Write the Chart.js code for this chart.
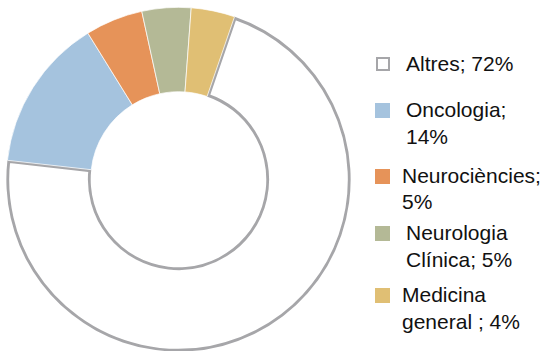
<!DOCTYPE html>
<html>
<head>
<meta charset="utf-8">
<script src="https://cdn.jsdelivr.net/npm/chart.js@4"></script>
<style>
  html, body { margin: 0; padding: 0; background: #fff; }
  body { width: 543px; height: 351px; position: relative; overflow: hidden; font-family: "Liberation Sans", Arial, sans-serif; }
  #wrap { position: absolute; left: 5.5px; top: 6.5px; width: 345px; height: 345px; }
  .lg-box { position: absolute; box-sizing: border-box; }
  .lg-text { position: absolute; font-size: 21px; line-height: 26.5px; color: #111; white-space: nowrap; }
</style>
</head>
<body>
<div id="wrap"><canvas id="c"></canvas></div>
<div id="legend"></div>
<script>
// ---- data ----
const categories = ['Altres', 'Oncologia', 'Neurociències', 'Neurologia Clínica', 'Medicina general'];
const values = [71.5, 14.4, 5.4, 4.6, 4.1];
const legendLines = [
  ['Altres; 72%'],
  ['Oncologia;', '14%'],
  ['Neurociències;', '5%'],
  ['Neurologia', 'Clínica; 5%'],
  ['Medicina', 'general ; 4%']
];

// ---- styles ----
const fillColors = ['#ffffff', '#a5c3de', '#e69359', '#b4b996', '#e0bf74'];
const lineColors = ['#a6a6a9', '#ffffff', '#ffffff', '#ffffff', '#ffffff'];
const lineWidths = [2.5, 0.7, 0.7, 0.7, 0.7];
const aligns = ['inner', 'center', 'center', 'center', 'center'];

new Chart(document.getElementById('c'), {
  type: 'doughnut',
  data: {
    labels: categories,
    datasets: [{
      data: values,
      backgroundColor: fillColors,
      borderColor: lineColors,
      borderWidth: lineWidths,
      borderAlign: aligns
    }]
  },
  options: {
    responsive: true,
    maintainAspectRatio: false,
    animation: false,
    rotation: 19,
    cutout: '51%',
    layout: { padding: 0 },
    plugins: { legend: { display: false }, tooltip: { enabled: false } }
  }
});

// ---- HTML legend ----
const legendLayout = {
  boxX: 375, boxSize: 15,
  textX: [406, 406, 402, 406, 402],
  baseline: [71.3, 117.7, 183.3, 240.5, 302.7],
  lineH: 26.5
};
const lg = document.getElementById('legend');
legendLines.forEach((lines, i) => {
  const b = legendLayout.baseline[i];
  const box = document.createElement('div');
  box.className = 'lg-box';
  box.style.left = legendLayout.boxX + 'px';
  box.style.top = (b - 14.5) + 'px';
  box.style.width = legendLayout.boxSize + 'px';
  box.style.height = legendLayout.boxSize + 'px';
  if (i === 0) {
    box.style.border = '2px solid #a6a6a9';
    box.style.background = '#fff';
    box.style.left = (legendLayout.boxX + 1) + 'px';
    box.style.width = '14px';
    box.style.height = '14px';
  } else {
    box.style.background = fillColors[i];
  }
  lg.appendChild(box);
  const t = document.createElement('div');
  t.className = 'lg-text';
  t.style.left = legendLayout.textX[i] + 'px';
  t.style.top = (b - 20.5) + 'px';
  t.innerHTML = lines.join('<br>');
  lg.appendChild(t);
});
</script>
</body>
</html>
